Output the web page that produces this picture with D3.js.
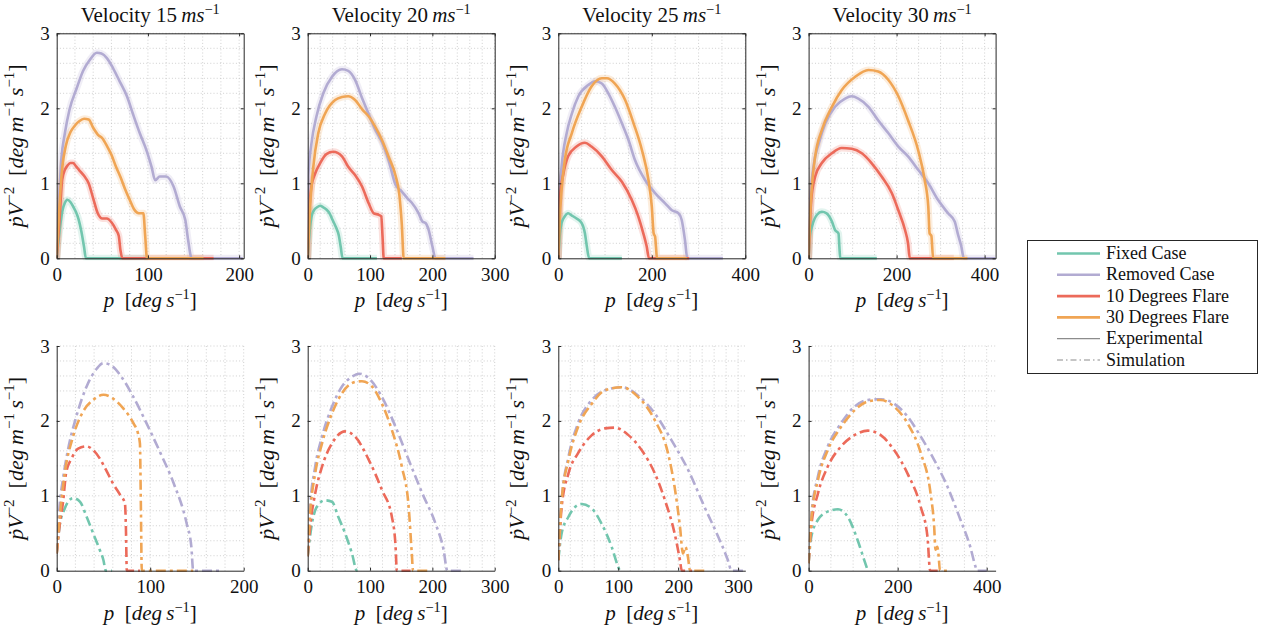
<!DOCTYPE html>
<html><head><meta charset="utf-8">
<script src="https://cdnjs.cloudflare.com/ajax/libs/d3/7.8.5/d3.min.js"></script>
<style>
html,body{margin:0;padding:0;background:#fff;}
svg text{font-family:"Liberation Serif","LiberationSerif","Tinos","DejaVu Serif","Noto Serif",serif !important;fill:#111;}
</style></head><body>
<svg id="c" width="1270" height="631"></svg>
<script>
// ---------- data ----------
const velocities = [15, 20, 25, 30];
const seriesNames = ["Fixed Case", "Removed Case", "10 Degrees Flare", "30 Degrees Flare"];
const topXMax = [205, 300, 400, 425];
const topXTicks = [[0,100,200],[0,100,200,300],[0,200,400],[0,200,400]];
const topXMinor = [20, 20, 50, 50];
const botXMax = [200, 300, 312, 420];
const botXTicks = [[0,100,200],[0,100,200,300],[0,100,200,300],[0,200,400]];
const botXMinor = [20, 20, 20, 50];
const yTicks = [0, 1, 2, 3];

// experimental, velocity 15
const exp15Fixed = [[0,0],[3,0.35],[6,0.62],[9,0.74],[12,0.78],[15,0.75],[18,0.69],[21,0.62],[24,0.52],[27,0.36],[30,0.15],[32,0],[100,0]];
const exp15Removed = [[0,0],[1,0.5],[2.5,0.78],[5,1.31],[9,1.67],[14,1.98],[22,2.27],[29,2.5],[36,2.64],[44,2.74],[49,2.73],[55,2.67],[62,2.53],[69,2.36],[77,2.16],[84,1.91],[91,1.67],[99,1.42],[104,1.22],[108,1.04],[113,1.09],[120,1.09],[128,0.96],[135,0.69],[141,0.51],[144,0.25],[148,0],[204,0]];
const exp15Flare10 = [[0,0],[3,0.5],[6,1.05],[9,1.18],[12,1.24],[15,1.27],[18,1.27],[21,1.23],[25,1.17],[30,1.1],[35,1.0],[40,0.8],[45,0.6],[50,0.53],[55,0.53],[60,0.48],[65,0.38],[68,0.3],[70,0.1],[72,0],[172,0]];
const exp15Flare30 = [[0,0],[3,0.7],[6,1.2],[10,1.5],[15,1.68],[20,1.77],[25,1.83],[30,1.86],[35,1.85],[40,1.74],[45,1.65],[50,1.6],[55,1.5],[60,1.38],[65,1.22],[70,1.08],[75,0.92],[80,0.78],[85,0.65],[90,0.6],[95,0.6],[97,0.3],[99,0],[161,0]];
// experimental, velocity 20
const exp20Fixed = [[0,0],[3,0.35],[6,0.55],[10,0.64],[15,0.68],[20,0.7],[25,0.68],[30,0.65],[35,0.6],[40,0.51],[45,0.42],[50,0.3],[53,0.15],[56,0],[111,0]];
const exp20Removed = [[0,0],[1,1.1],[6,1.53],[14,1.89],[25,2.2],[39,2.42],[55,2.52],[65,2.5],[76,2.38],[87,2.14],[98,1.92],[108,1.72],[119,1.55],[130,1.3],[141,0.98],[151,0.89],[160,0.8],[167,0.74],[178,0.6],[184,0.49],[189,0.47],[194,0.38],[200,0.16],[205,0],[266,0]];
const exp20Flare10 = [[0,0],[3,0.7],[6,0.96],[12,1.13],[20,1.27],[30,1.39],[41,1.42],[55,1.36],[65,1.22],[76,1.11],[87,0.96],[98,0.73],[106,0.6],[114,0.58],[118,0.56],[120,0.3],[122,0],[151,0]];
const exp20Flare30 = [[0,0],[4,0.7],[9,1.22],[17,1.67],[28,1.93],[44,2.11],[55,2.15],[65,2.16],[76,2.11],[88,1.98],[98,1.89],[108,1.76],[119,1.58],[130,1.35],[141,1.1],[147,0.85],[151,0.45],[154,0],[221,0]];
// experimental, velocity 25
const exp25Fixed = [[0,0],[3,0.3],[7,0.47],[14,0.56],[21,0.6],[29,0.57],[39,0.53],[50,0.47],[57,0.33],[61,0.16],[66,0],[136,0]];
const exp25Removed = [[0,0],[2,0.78],[7,1.22],[18,1.67],[29,1.93],[43,2.16],[64,2.31],[79,2.36],[93,2.33],[107,2.2],[121,2.02],[136,1.8],[150,1.58],[164,1.31],[186,1.04],[207,0.87],[229,0.73],[243,0.64],[257,0.6],[264,0.51],[271,0.24],[276,0],[352,0]];
const exp25Flare10 = [[0,0],[3.6,0.82],[11,1.13],[21,1.36],[39,1.49],[57,1.54],[71,1.49],[93,1.36],[114,1.18],[136,1.02],[157,0.78],[171,0.56],[182,0.33],[189,0.16],[194,0],[280,0]];
const exp25Flare30 = [[0,0],[3,0.5],[7,0.91],[14,1.31],[29,1.67],[50,2.02],[71,2.29],[93,2.4],[104,2.4],[121,2.33],[143,2.11],[161,1.8],[179,1.44],[193,1.04],[200,0.69],[204,0.33],[207,0.29],[209,0.15],[211,0],[275,0]];
// experimental, velocity 30
const exp30Fixed = [[0,0],[3,0.3],[7.5,0.42],[19,0.58],[30,0.62],[41,0.6],[53,0.49],[60,0.38],[68,0.33],[70,0.15],[72,0],[155,0]];
const exp30Removed = [[0,0],[4,0.78],[11,1.22],[23,1.53],[38,1.8],[60,2.02],[83,2.13],[98,2.16],[113,2.13],[136,2.02],[158,1.84],[181,1.67],[204,1.49],[226,1.36],[249,1.18],[272,1.0],[294,0.78],[317,0.6],[332,0.49],[339,0.33],[347,0.16],[353,0],[425,0]];
const exp30Flare10 = [[0,0],[6,0.78],[15,1.09],[30,1.27],[53,1.4],[75,1.47],[98,1.46],[121,1.4],[143,1.27],[166,1.09],[189,0.87],[204,0.64],[219,0.38],[226,0.2],[230,0],[330,0]];
const exp30Flare30 = [[0,0],[3,0.5],[7.5,0.96],[15,1.36],[30,1.71],[53,2.02],[75,2.24],[106,2.42],[136,2.51],[158,2.49],[181,2.38],[204,2.16],[226,1.84],[249,1.44],[264,1.04],[272,0.69],[275,0.33],[279,0.3],[283,0],[361,0]];

// simulation
const sim15Fixed = [[0,0.23],[3,0.59],[8.6,0.83],[17.5,0.97],[25,0.92],[32,0.72],[39,0.5],[46,0.28],[50,0.14],[52.5,0],[59,0]];
const sim15Removed = [[0,0.23],[3,0.85],[7,1.25],[12,1.61],[21,2.06],[32,2.46],[43,2.7],[50,2.77],[57,2.75],[68,2.61],[82,2.32],[96,1.97],[111,1.57],[125,1.17],[139,0.63],[144,0.32],[146,0],[175,0]];
const sim15Flare10 = [[0,0.23],[3,0.59],[7,0.94],[10,1.3],[16,1.5],[23,1.63],[32,1.66],[39,1.61],[46,1.5],[53,1.34],[60,1.17],[68,1.01],[73,0.9],[74,0.59],[75,0],[89,0]];
const sim15Flare30 = [[0,0.23],[3,0.68],[8.6,1.3],[17.5,1.79],[28,2.12],[39,2.28],[50,2.35],[60,2.3],[71,2.17],[82,1.97],[87,1.83],[89,1.7],[90,0.9],[91,0],[146,0]];
const sim20Fixed = [[0,0.19],[6,0.59],[14.5,0.85],[28,0.94],[39,0.92],[49,0.72],[60,0.5],[71,0.23],[79,0],[80,0]];
const sim20Removed = [[0,0.2],[4,0.85],[12,1.39],[23,1.79],[39,2.19],[55,2.46],[71,2.59],[82,2.63],[98,2.57],[119,2.32],[141,1.92],[162,1.48],[184,1.03],[205,0.63],[218,0.28],[224,0],[248,0]];
const sim20Flare10 = [[0,0.19],[4,0.59],[12,1.03],[23,1.39],[39,1.7],[60,1.86],[76,1.79],[98,1.48],[119,1.08],[135,0.72],[141,0.32],[143,0],[165,0]];
const sim20Flare30 = [[0,0.2],[4,0.77],[12,1.3],[23,1.7],[39,2.1],[55,2.37],[76,2.52],[87,2.53],[103,2.46],[119,2.23],[135,1.88],[151,1.39],[162,0.85],[167,0.23],[169,0],[194,0]];
const sim25Fixed = [[0,0.14],[5.6,0.5],[17,0.72],[28,0.85],[39,0.89],[56,0.83],[72,0.63],[89,0.32],[100,0.05],[103,0],[106,0]];
const sim25Removed = [[0,0.14],[5.6,0.94],[17,1.52],[33,1.97],[56,2.28],[78,2.41],[106,2.45],[133,2.34],[161,2.1],[189,1.74],[217,1.34],[244,0.85],[267,0.45],[283,0.14],[289,0],[312,0]];
const sim25Flare10 = [[0,0.14],[5.6,0.85],[17,1.3],[33,1.57],[56,1.81],[78,1.9],[94,1.91],[117,1.81],[139,1.61],[161,1.3],[178,0.94],[194,0.5],[203,0.14],[206,0],[228,0]];
const sim25Flare30 = [[0,0.14],[5.6,0.94],[17,1.48],[33,1.92],[56,2.23],[78,2.41],[106,2.45],[133,2.32],[161,2.01],[183,1.57],[194,1.12],[203,0.59],[208,0.23],[212,0.32],[216,0.2],[220,0],[245,0]];
const sim30Fixed = [[0,0.1],[6,0.45],[21,0.68],[43,0.79],[66,0.82],[88,0.72],[110,0.41],[125,0.14],[133,0]];
const sim30Removed = [[0,0.1],[6,0.72],[21,1.26],[43,1.66],[73,1.97],[103,2.19],[133,2.28],[162,2.29],[192,2.23],[222,2.06],[252,1.79],[282,1.48],[312,1.12],[341,0.68],[363,0.32],[375,0.05],[378,0],[400,0]];
const sim30Flare10 = [[0,0.1],[6,0.59],[21,1.03],[43,1.39],[73,1.66],[103,1.81],[133,1.87],[162,1.81],[192,1.61],[222,1.3],[252,0.85],[267,0.45],[273,0],[290,0]];
const sim30Flare30 = [[0,0.1],[6,0.68],[21,1.21],[43,1.61],[73,1.92],[103,2.14],[133,2.26],[162,2.28],[192,2.19],[222,1.97],[252,1.57],[274,1.03],[282,0.59],[285,0.28],[289,0.32],[292,0.2],[295,0],[311,0]];

const expData = [
  [exp15Fixed, exp15Removed, exp15Flare10, exp15Flare30],
  [exp20Fixed, exp20Removed, exp20Flare10, exp20Flare30],
  [exp25Fixed, exp25Removed, exp25Flare10, exp25Flare30],
  [exp30Fixed, exp30Removed, exp30Flare10, exp30Flare30]];
const simData = [
  [sim15Fixed, sim15Removed, sim15Flare10, sim15Flare30],
  [sim20Fixed, sim20Removed, sim20Flare10, sim20Flare30],
  [sim25Fixed, sim25Removed, sim25Flare10, sim25Flare30],
  [sim30Fixed, sim30Removed, sim30Flare10, sim30Flare30]];

// ---------- styles / layout ----------
const FONT = '"Liberation Serif","LiberationSerif","Tinos","DejaVu Serif","Noto Serif",serif';
const colors = ["#72c6ae", "#b2abd2", "#ec6a5a", "#f0a554"];
const panelLeft = [56.7, 307.7, 558.3, 808.6];
const panelW = 187;
const rows = [{top: 33.3, bottom: 258.3}, {top: 346, bottom: 570.7}];
const DASH = "10,4,3,4";

const svg = d3.select("#c");

function richText(sel, parts, size) {
  sel.attr("font-family", FONT);
  parts.forEach(p => {
    const ts = sel.append("tspan").text(p.t);
    if (p.i) ts.attr("font-style", "italic");
    if (p.sup) ts.attr("font-size", size * 0.68).attr("dy", -size * 0.38);
    if (p.down) ts.attr("dy", size * 0.38);
  });
}

function drawPanel(row, col) {
  const isTop = row === 0;
  const xMax = isTop ? topXMax[col] : botXMax[col];
  const ticks = isTop ? topXTicks[col] : botXTicks[col];
  const minor = isTop ? topXMinor[col] : botXMinor[col];
  const {top, bottom} = rows[row];
  const left = panelLeft[col];
  const x = d3.scaleLinear().domain([0, xMax]).range([left, left + panelW]);
  const y = d3.scaleLinear().domain([0, 3]).range([bottom, top]);
  const g = svg.append("g");

  // grid
  const grid = g.append("g").attr("stroke", "#c4c4c4").attr("stroke-width", 0.8).attr("stroke-dasharray", "1,2.2");
  d3.range(minor, xMax + 0.001, minor).forEach(v => {
    grid.append("line").attr("x1", x(v)).attr("x2", x(v)).attr("y1", top).attr("y2", bottom);
  });
  d3.range(0.2, 3.001, 0.2).forEach(v => {
    grid.append("line").attr("x1", left).attr("x2", left + panelW).attr("y1", y(v)).attr("y2", y(v));
  });

  const clipId = `clip${row}${col}`;
  g.append("clipPath").attr("id", clipId).append("rect")
    .attr("x", left).attr("y", top - 2).attr("width", panelW).attr("height", bottom - top + 4);
  const plot = g.append("g").attr("clip-path", `url(#${clipId})`);

  const line = d3.line().x(d => x(d[0])).y(d => y(d[1])).curve(d3.curveMonotoneX);
  if (isTop) {
    expData[col].forEach((s, i) => {
      plot.append("path").attr("d", line(s)).attr("fill", "none")
        .attr("stroke", colors[i]).attr("stroke-opacity", 0.2).attr("stroke-width", 7)
        .attr("stroke-linejoin", "round");
    });
    expData[col].forEach((s, i) => {
      plot.append("path").attr("d", line(s)).attr("fill", "none")
        .attr("stroke", colors[i]).attr("stroke-width", 2.6).attr("stroke-linejoin", "round");
    });
  } else {
    simData[col].forEach((s, i) => {
      plot.append("path").attr("d", line(s)).attr("fill", "none")
        .attr("stroke", colors[i]).attr("stroke-width", 2.6).attr("stroke-dasharray", DASH);
    });
  }

  // axes
  const ax = g.append("g").attr("transform", `translate(0,${bottom})`)
    .call(d3.axisBottom(x).tickValues(ticks).tickSize(-3).tickSizeOuter(0).tickPadding(9).tickFormat(d3.format("d")));
  const ay = g.append("g").attr("transform", `translate(${left},0)`)
    .call(d3.axisLeft(y).tickValues(yTicks).tickSize(-3).tickSizeOuter(0).tickPadding(7).tickFormat(d3.format("d")));
  [ax, ay].forEach(a => {
    a.attr("font-family", FONT).attr("font-size", 19);
    a.selectAll("text").attr("font-size", 19).attr("font-family", FONT).attr("fill", "#111");
    a.select(".domain").attr("stroke", "#262626").attr("stroke-width", 1);
    a.selectAll(".tick line").attr("stroke", "#262626");
  });
  if (isTop) {
    const at = g.append("g").attr("transform", `translate(0,${top})`)
      .call(d3.axisTop(x).tickValues(ticks).tickSize(-3).tickSizeOuter(0).tickFormat(""));
    const ar = g.append("g").attr("transform", `translate(${left + panelW},0)`)
      .call(d3.axisRight(y).tickValues(yTicks).tickSize(-3).tickSizeOuter(0).tickFormat(""));
    [at, ar].forEach(a => {
      a.select(".domain").attr("stroke", "#262626").attr("stroke-width", 1);
      a.selectAll(".tick line").attr("stroke", "#262626");
    });
    // title
    const t = g.append("text").attr("x", left + panelW / 2).attr("y", 22)
      .attr("text-anchor", "middle").attr("font-size", 21);
    richText(t, [{t: `Velocity ${velocities[col]}\u2009`}, {t: "ms", i: true}, {t: "−1", sup: true}], 21);
  }

  // x label
  const xl = g.append("text").attr("x", left + panelW / 2).attr("y", bottom + 49)
    .attr("text-anchor", "middle").attr("font-size", 21);
  richText(xl, [{t: "p", i: true}, {t: "\u2002[", }, {t: "deg\u2009s", i: true}, {t: "−1", sup: true}, {t: "]", down: true}], 21);

  // y label
  const yl = g.append("text")
    .attr("transform", `translate(${left - 34},${(top + bottom) / 2}) rotate(-90)`)
    .attr("text-anchor", "middle").attr("font-size", 22);
  richText(yl, [{t: "ṗV", i: true}, {t: "−2", sup: true}, {t: "\u2002[", down: true}, {t: "deg\u2009m", i: true}, {t: "−1", sup: true},
    {t: "\u2009s", i: true, down: true}, {t: "−1", sup: true}, {t: "]", down: true}], 22);
}

for (let r = 0; r < 2; r++) for (let c = 0; c < 4; c++) drawPanel(r, c);

// legend
const lg = svg.append("g");
lg.append("rect").attr("x", 1027.5).attr("y", 240.5).attr("width", 230).attr("height", 133)
  .attr("fill", "#fff").attr("stroke", "#262626").attr("stroke-width", 1);
const legendItems = seriesNames.map((n, i) => ({name: n, color: colors[i], w: 2.6, dash: null}))
  .concat([{name: "Experimental", color: "#8c8c8c", w: 1.2, dash: null},
           {name: "Simulation", color: "#8c8c8c", w: 1.2, dash: "6,3,1.5,3"}]);
legendItems.forEach((it, i) => {
  const yy = 253.5 + i * 21.3;
  lg.append("line").attr("x1", 1057).attr("x2", 1100).attr("y1", yy).attr("y2", yy)
    .attr("stroke", it.color).attr("stroke-width", it.w).attr("stroke-dasharray", it.dash);
  lg.append("text").attr("x", 1106).attr("y", yy + 5.5).attr("font-size", 18).attr("font-family", FONT).text(it.name);
});
</script>
</body></html>
